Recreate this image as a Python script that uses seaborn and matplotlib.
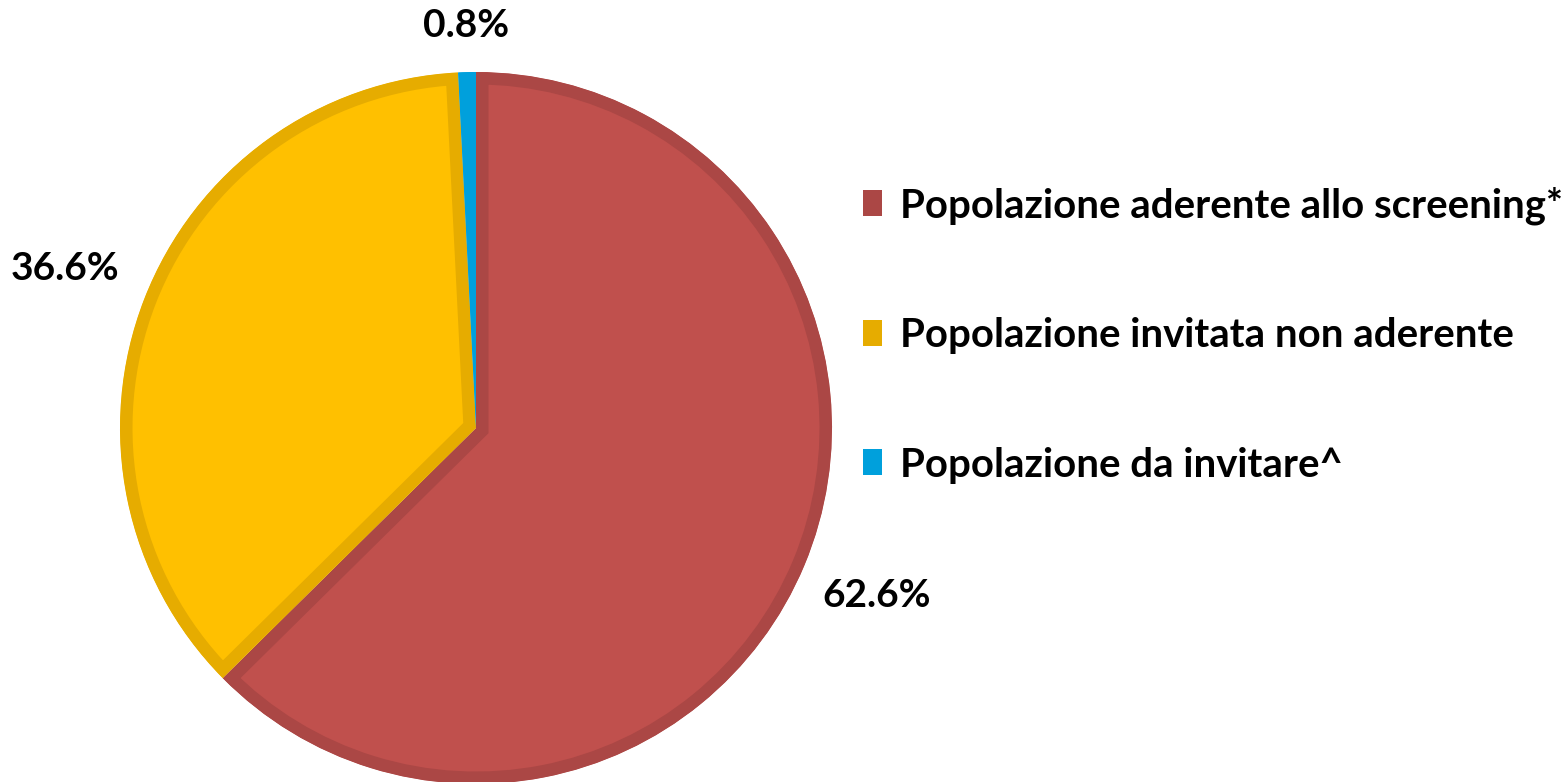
import matplotlib
matplotlib.use("Agg")
import matplotlib.pyplot as plt
import matplotlib.patches as mpatches
import numpy as np
import seaborn as sns

categories = ["Popolazione aderente allo screening*",
              "Popolazione invitata non aderente",
              "Popolazione da invitare^"]
values = [62.6, 36.6, 0.8]
fill_colors = ["#C0504D", "#FFC000", "#00A0DC"]
edge_colors = ["#AB4745", "#E6AC00", "#00A0DC"]

sns.set_theme(style="white")
plt.rcParams['font.family'] = ['Lato', 'DejaVu Sans']
plt.rcParams['text.color'] = 'black'

W, H = 1568, 782
fig = plt.figure(figsize=(W / 100, H / 100), dpi=100)
ax = fig.add_axes([0, 0, 1, 1])

cx, cy, r = 476, H - 428, 356
wedges, _ = ax.pie(values, colors=fill_colors, startangle=90, counterclock=False,
                   center=(cx, cy), radius=r,
                   wedgeprops=dict(linewidth=18, edgecolor="none"))
for w, ec in zip(wedges, edge_colors):
    w.set_edgecolor(ec)
    w.set_clip_path(w)
    w.set_clip_on(True)

# percentage labels placed radially from the wedge mid-angles
dists = [1.22, 1.24, 1.13]
for w, v, d in zip(wedges, values, dists):
    ang = np.deg2rad((w.theta1 + w.theta2) / 2)
    ax.text(cx + d * r * np.cos(ang), cy + d * r * np.sin(ang), f"{v:.1f}%",
            ha="center", va="center", fontsize=28, fontweight="bold", color="black")

ax.set_xlim(0, W)
ax.set_ylim(0, H)
ax.set_aspect("equal")
ax.set_axis_off()

handles = [mpatches.Patch(facecolor=ec, edgecolor="none")
           for ec in ["#AB4745", "#E6AC00", "#00A0DC"]]
leg = ax.legend(handles, categories, loc="center left",
                bbox_to_anchor=(863 / W, 1 - 335 / H), frameon=False,
                prop=dict(family="Lato", weight="bold", size=28.9),
                labelspacing=2.3, handlelength=0.47, handleheight=0.62,
                handletextpad=0.45, borderpad=0, borderaxespad=0)
for t in leg.get_texts():
    t.set_color("black")

fig.savefig("out.png", dpi=100, facecolor="white")
